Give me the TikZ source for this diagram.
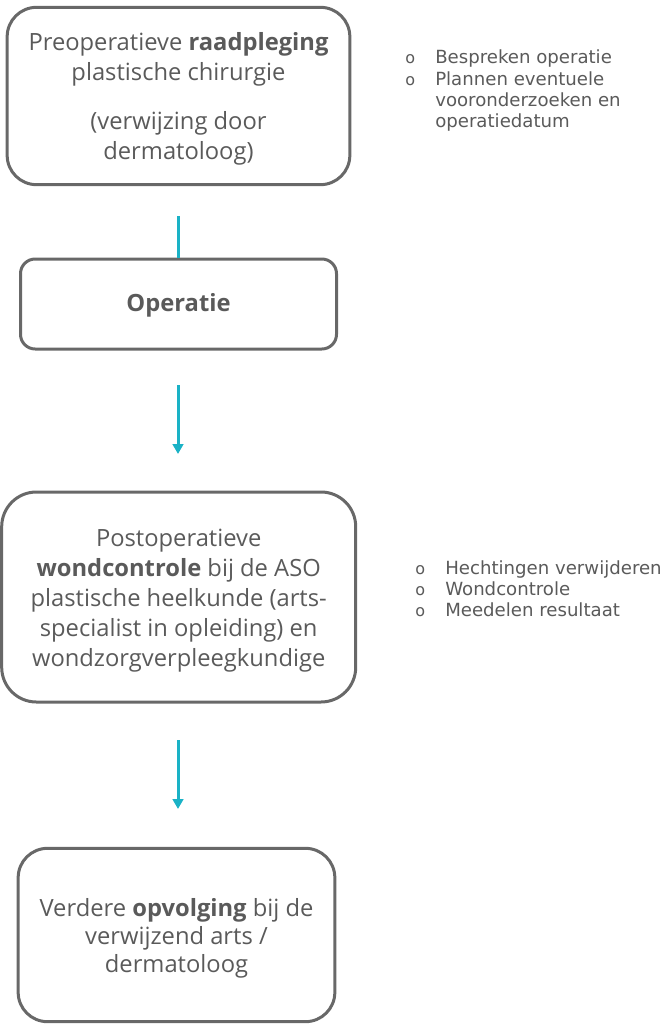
\documentclass[tikz,border=0pt]{standalone}
\usepackage{fontspec}
\setmainfont{Open Sans}
\newfontfamily\bulfont{DejaVu Sans}
\usetikzlibrary{arrows.meta}
\definecolor{txtgray}{RGB}{90,90,90}
\definecolor{boxgray}{RGB}{104,104,104}
\definecolor{teal}{RGB}{26,178,198}
\tikzset{
  box/.style={draw=boxgray, line width=2.25pt, text=txtgray, inner sep=0pt,
    font=\fontsize{17.8pt}{22.5pt}\selectfont},
  conn/.style={draw=teal, line width=2.25pt},
  arr/.style={conn, -{Triangle[length=7.5pt,width=8pt]}},
  bullist/.style={text=txtgray, inner sep=0pt, anchor=base west,
    font=\bulfont\fontsize{13.6pt}{15.9pt}\selectfont}
}
\newcommand{\bul}{{\fontsize{12pt}{10pt}\selectfont o}}
\newcommand{\lowtext}[2][2.4pt]{\raisebox{-#1}[\height][\depth]{\begin{tabular}{@{}c@{}}#2\end{tabular}}}
\begin{document}
\begin{tikzpicture}[x=0.75pt,y=-0.75pt]
\useasboundingbox (0,0) rectangle (671,1024);
\node[box, rounded corners=22pt, minimum width=257pt, minimum height=133pt] (n1) at (178.5,96)
  {\lowtext{Preoperatieve \textbf{raadpleging}\\ plastische chirurgie\\[14pt] (verwijzing door\\ dermatoloog)}};
\node[box, rounded corners=11pt, minimum width=237pt, minimum height=67.5pt] (n2) at (178.5,304)
  {\lowtext[1pt]{\textbf{Operatie}}};
\node[box, rounded corners=26pt, minimum width=265.5pt, minimum height=157.5pt] (n3) at (178.7,597)
  {\lowtext{Postoperatieve\\ \textbf{wondcontrole} bij de ASO\\ plastische heelkunde (arts-\\ specialist in opleiding) en\\ wondzorgverpleegkundige}};
\node[box, rounded corners=22pt, minimum width=237.5pt, minimum height=130pt] (n4) at (176.5,935)
  {\lowtext[2.4pt]{Verdere \textbf{opvolging} bij de\\[-1.5pt] verwijzend arts /\\[-1.5pt] dermatoloog}};
\coordinate (c1) at (178.5,216);
\coordinate (c2a) at (178,385);
\coordinate (c2b) at (178,454);
\coordinate (c3a) at (178,740);
\coordinate (c3b) at (178,809);
\draw[conn] (c1) -- (n2.north);
\draw[arr] (c2a) -- (c2b);
\draw[arr] (c3a) -- (c3b);
\node[bullist] (l1) at (405,64)
  {\begin{tabular}[t]{@{}p{22.5pt}@{}l@{}}
  \bul & Bespreken operatie\\
  \bul & Plannen eventuele\\
    & vooronderzoeken en\\
    & operatiedatum
  \end{tabular}};
\node[bullist] (l2) at (415,574)
  {\begin{tabular}[t]{@{}p{22.5pt}@{}l@{}}
  \bul & Hechtingen verwijderen\\
  \bul & Wondcontrole\\
  \bul & Meedelen resultaat
  \end{tabular}};
\end{tikzpicture}
\end{document}
